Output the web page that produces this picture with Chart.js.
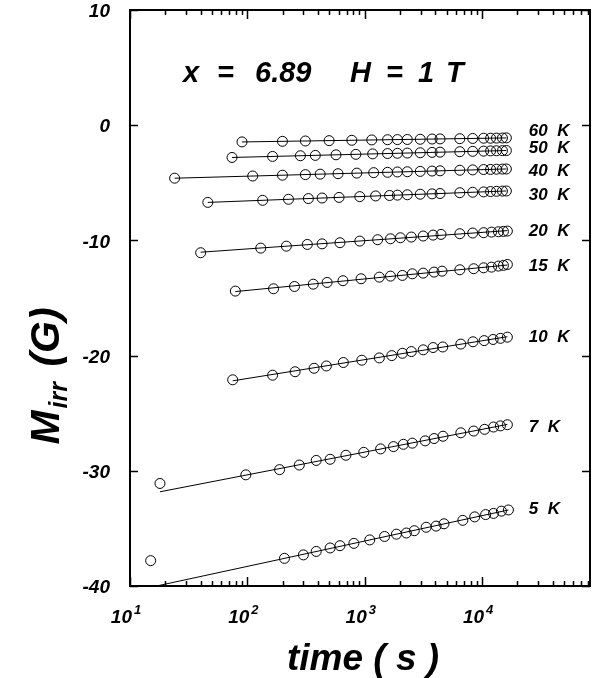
<!DOCTYPE html>
<html>
<head>
<meta charset="utf-8">
<script src="https://cdn.jsdelivr.net/npm/chart.js@4"></script>
<style>
  body { margin: 0; background: #fff; }
  canvas { display: block; }
</style>
</head>
<body>
<canvas id="grafico" width="596" height="678"></canvas>
<script>
// temperaturas y datos (t en s, M_irr en G)
const temps = ['5 K', '7 K', '10 K', '15 K', '20 K', '30 K', '40 K', '50 K', '60 K'];

const t5 = [15, 207, 300, 386, 507, 615, 808, 1103, 1475, 1862, 2261, 2643, 3337, 4053, 4732, 6846, 8643, 10710, 12510, 14610, 16750];
const m5 = [-37.8, -37.6, -37.3, -37.0, -36.7, -36.5, -36.3, -36.0, -35.7, -35.5, -35.4, -35.2, -34.9, -34.8, -34.6, -34.3, -34.0, -33.8, -33.7, -33.5, -33.4];

const t7 = [18, 97, 188, 277, 386, 507, 691, 981, 1365, 1757, 2134, 2543, 3271, 3897, 4642, 6583, 8478, 10500, 12510, 14320, 16410];
const m7 = [-31.1, -30.35, -29.9, -29.5, -29.1, -29.0, -28.65, -28.4, -28.1, -27.9, -27.7, -27.6, -27.4, -27.2, -27.0, -26.7, -26.55, -26.4, -26.2, -26.1, -26.0];

const t10 = [75, 164, 255, 370, 471, 657, 944, 1331, 1700, 2093, 2493, 3150, 3822, 4620, 6583, 8360, 10400, 12400, 14320, 16410];
const m10 = [-22.1, -21.7, -21.4, -21.1, -20.9, -20.6, -20.4, -20.2, -20.0, -19.8, -19.65, -19.5, -19.3, -19.25, -19.0, -18.8, -18.7, -18.6, -18.5, -18.4];

const t15 = [79, 167, 252, 364, 478, 652, 931, 1331, 1657, 2093, 2543, 3147, 3897, 4553, 6457, 8478, 10300, 12030, 13770, 15190, 16410];
const m15 = [-14.4, -14.2, -14.0, -13.8, -13.65, -13.5, -13.33, -13.19, -13.1, -13.04, -12.9, -12.84, -12.75, -12.67, -12.55, -12.46, -12.38, -12.32, -12.23, -12.17, -12.09];

const t20 = [40, 130, 215, 324, 433, 615, 907, 1288, 1657, 2013, 2493, 3147, 3822, 4466, 6457, 8315, 10300, 12030, 13770, 15190, 16410];
const m20 = [-11.07, -10.67, -10.5, -10.35, -10.3, -10.2, -10.06, -9.94, -9.86, -9.77, -9.71, -9.62, -9.54, -9.48, -9.42, -9.36, -9.33, -9.28, -9.25, -9.22, -9.19];

const t30 = [46, 135, 224, 331, 433, 604, 907, 1238, 1626, 1898, 2305, 2970, 3748, 4381, 6457, 8315, 10300, 11800, 13250, 14900, 16090];
const m30 = [-6.70, -6.52, -6.43, -6.37, -6.32, -6.27, -6.20, -6.14, -6.10, -6.07, -6.04, -5.99, -5.96, -5.93, -5.86, -5.82, -5.79, -5.76, -5.74, -5.72, -5.71];

const t40 = [24, 111, 199, 312, 417, 592, 856, 1191, 1564, 1898, 2305, 2970, 3748, 4381, 6457, 8315, 10300, 11800, 13250, 14900, 16090];
const m40 = [-4.60, -4.41, -4.34, -4.29, -4.25, -4.21, -4.16, -4.12, -4.09, -4.06, -4.04, -4.01, -3.98, -3.96, -3.91, -3.88, -3.85, -3.84, -3.82, -3.81, -3.80];

const t50 = [74, 164, 283, 379, 569, 840, 1168, 1564, 1898, 2305, 2970, 3748, 4381, 6457, 8315, 10300, 11800, 13250, 14900, 16090];
const m50 = [-2.80, -2.71, -2.65, -2.62, -2.57, -2.53, -2.49, -2.46, -2.44, -2.42, -2.39, -2.36, -2.34, -2.30, -2.27, -2.25, -2.23, -2.22, -2.21, -2.20];

const t60 = [90, 199, 312, 497, 776, 1147, 1564, 1898, 2305, 2970, 3748, 4381, 6457, 8315, 10300, 11800, 13250, 14900, 16090];
const m60 = [-1.45, -1.40, -1.37, -1.34, -1.31, -1.28, -1.26, -1.25, -1.24, -1.22, -1.20, -1.19, -1.17, -1.15, -1.13, -1.13, -1.12, -1.11, -1.10];

// el primer punto de 5 K y 7 K queda fuera del ajuste
const sinAjuste = [true, true, false, false, false, false, false, false, false];
// posición de las etiquetas de temperatura
const labelY = [-33.3, -26.2, -18.4, -12.25, -9.2, -6.1, -4.0, -2.04, -0.5];
const labelT = 25000;

const xMayores = [10, 100, 1000, 10000];
const yTicks = [10, 0, -10, -20, -30, -40];

const tiempos = [t5, t7, t10, t15, t20, t30, t40, t50, t60];
const valores = [m5, m7, m10, m15, m20, m30, m40, m50, m60];

const FUENTE = '"Liberation Sans", Arial, sans-serif';

// recta de ajuste M = a + b log t
function ajuste(t, m, saltar) {
    const xs = [], ys = [];
    t.forEach((v, i) => { if (!(saltar && i === 0)) { xs.push(Math.log10(v)); ys.push(m[i]); } });
    const n = xs.length;
    const mx = xs.reduce((a, b) => a + b, 0) / n;
    const my = ys.reduce((a, b) => a + b, 0) / n;
    let sxy = 0, sxx = 0;
    for (let i = 0; i < n; i++) { sxy += (xs[i] - mx) * (ys[i] - my); sxx += (xs[i] - mx) ** 2; }
    const b = sxy / sxx, a = my - b * mx;
    const t0 = t[0], t1 = t[t.length - 1];
    return [{ x: t0, y: a + b * Math.log10(t0) }, { x: t1, y: a + b * Math.log10(t1) }];
}

const datasets = [];
temps.forEach((nombre, k) => {
    datasets.push({
        label: nombre + ' ajuste',
        data: ajuste(tiempos[k], valores[k], sinAjuste[k]),
        showLine: true,
        borderColor: '#000',
        borderWidth: 1,
        pointRadius: 0
    });
    datasets.push({
        label: nombre,
        data: tiempos[k].map((t, i) => ({ x: t, y: valores[k][i] })),
        showLine: false,
        pointRadius: 5,
        pointBorderWidth: 1,
        pointBorderColor: '#000',
        pointBackgroundColor: 'rgba(0,0,0,0)'
    });
});

const marco = {
    id: 'marco',
    beforeDatasetsDraw(chart) {
        const { ctx, chartArea: ca, scales } = chart;
        const x = scales.x, y = scales.y;
        ctx.save();
        ctx.strokeStyle = '#000';
        ctx.lineWidth = 1.5;
        ctx.beginPath();
        // ticks eje x, arriba y abajo, hacia dentro
        for (let d = 10; d < 1e5; d *= 10) {
            for (let j = 1; j <= 9; j++) {
                const v = d * j;
                if (v > x.max) break;
                const px = Math.round(x.getPixelForValue(v)) + 0.5;
                const len = j === 1 ? 9 : 5;
                ctx.moveTo(px, ca.bottom); ctx.lineTo(px, ca.bottom - len);
                ctx.moveTo(px, ca.top); ctx.lineTo(px, ca.top + len);
            }
        }
        yTicks.forEach(v => {
            const py = Math.round(y.getPixelForValue(v)) + 0.5;
            ctx.moveTo(ca.left, py); ctx.lineTo(ca.left + 8, py);
            ctx.moveTo(ca.right, py); ctx.lineTo(ca.right - 8, py);
        });
        ctx.stroke();
        ctx.lineWidth = 2;
        ctx.strokeRect(ca.left, ca.top, ca.right - ca.left, ca.bottom - ca.top);
        ctx.restore();
    },
    afterDraw(chart) {
        const { ctx, scales } = chart;
        const x = scales.x, y = scales.y;
        ctx.save();
        ctx.fillStyle = '#000';

        // etiquetas eje y
        ctx.font = 'italic bold 19px ' + FUENTE;
        ctx.textAlign = 'right';
        ctx.textBaseline = 'middle';
        yTicks.forEach(v => ctx.fillText(String(v), 110, y.getPixelForValue(v) + 2));

        // etiquetas eje x con exponente
        ctx.textBaseline = 'alphabetic';
        xMayores.forEach(v => {
            const px = x.getPixelForValue(v);
            ctx.font = 'italic bold 19px ' + FUENTE;
            ctx.textAlign = 'right';
            ctx.fillText('10', px + 2, 623);
            ctx.font = 'italic bold 13px ' + FUENTE;
            ctx.textAlign = 'left';
            ctx.fillText(String(Math.round(Math.log10(v))), px + 4, 614);
        });

        // temperaturas
        ctx.font = 'italic bold 17px ' + FUENTE;
        ctx.textAlign = 'left';
        ctx.textBaseline = 'middle';
        temps.forEach((nombre, k) => {
            ctx.fillText(nombre.replace(' ', '  '), x.getPixelForValue(labelT), y.getPixelForValue(labelY[k]));
        });

        // texto superior
        ctx.font = 'italic bold 29px ' + FUENTE;
        ctx.textBaseline = 'alphabetic';
        [['x', 183], ['=', 217], ['6.89', 255], ['H', 350], ['=', 386], ['1', 418], ['T', 446]]
            .forEach(([s, px]) => ctx.fillText(s, px, 82));

        // título eje x
        ctx.font = 'italic bold 37px ' + FUENTE;
        ctx.textAlign = 'center';
        ctx.fillText('time ( s )', 363, 670);

        // título eje y: M_irr (G)
        ctx.translate(59, 376);
        ctx.rotate(-Math.PI / 2);
        ctx.textAlign = 'left';
        const fM = 'italic bold 41px ' + FUENTE;
        const fS = 'italic bold 25px ' + FUENTE;
        ctx.font = fM; const wM = ctx.measureText('M').width;
        ctx.font = fS; const wS = ctx.measureText('irr').width;
        ctx.font = fM; const wG = ctx.measureText(' (G)').width;
        let pos = -(wM + wS + wG + 6) / 2;
        ctx.font = fM; ctx.fillText('M', pos, 0); pos += wM + 2;
        ctx.font = fS; ctx.fillText('irr', pos, 8); pos += wS + 4;
        ctx.font = fM; ctx.fillText(' (G)', pos, 0);
        ctx.restore();
    }
};

new Chart(document.getElementById('grafico').getContext('2d'), {
    type: 'scatter',
    data: { datasets },
    options: {
        responsive: false,
        animation: false,
        layout: { padding: { left: 130, right: 1, top: 10, bottom: 92 } },
        plugins: { legend: { display: false }, tooltip: { enabled: false } },
        scales: {
            x: { type: 'logarithmic', min: 10, max: 83000, display: false },
            y: { type: 'linear', min: -40, max: 10, display: false }
        }
    },
    plugins: [marco]
});
</script>
</body>
</html>
